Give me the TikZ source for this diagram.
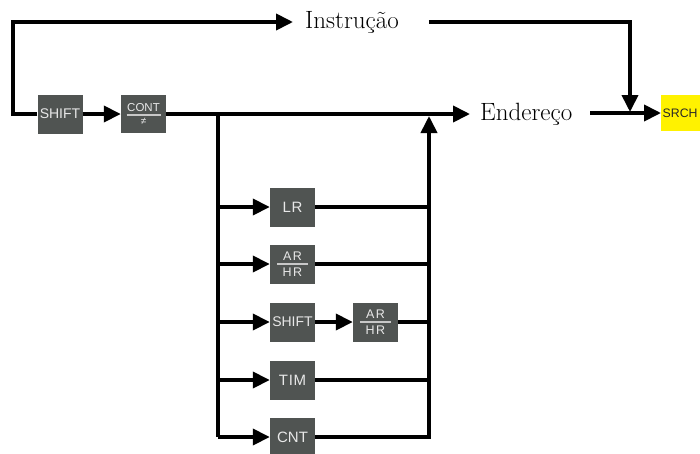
\documentclass[tikz,border=0pt]{standalone}
\usepackage{fontspec}
\newfontfamily\keyfont{Liberation Sans}
\usetikzlibrary{arrows.meta}

\definecolor{keygray}{RGB}{80,84,82}
\definecolor{keytext}{RGB}{232,232,232}
\definecolor{keyrule}{RGB}{200,200,200}
\definecolor{srchyellow}{RGB}{255,242,0}
\definecolor{srchtext}{RGB}{40,40,40}

% two-level key legend: upper text, thin rule, lower text
\newcommand\keyfrac[3]{\vbox{\offinterlineskip
  \hbox to #1{\hss#2\hss}\kern3pt
  \hbox{\color{keyrule}\rule{#1}{1.5pt}}\kern3pt
  \hbox to #1{\hss#3\hss}}}

\begin{document}
\begin{tikzpicture}[x=1pt,y=-1pt,
  key/.style={fill=keygray, text=keytext, minimum width=45pt, minimum height=39pt,
    inner sep=0pt, font=\keyfont\fontsize{15}{16}\selectfont},
  fkey/.style={key, font=\keyfont\fontsize{12.5}{13}\selectfont},
  wire/.style={line width=3.8pt},
  flow/.style={wire, -{Triangle[length=17pt,width=16pt]}},
  word/.style={font=\fontsize{25}{30}\selectfont, inner sep=0pt, anchor=west},
]
\useasboundingbox (0,0) rectangle (700,453);
\clip (0,0) rectangle (700,453);

% keys
\node[key, font=\keyfont\fontsize{14}{15}\selectfont] (shiftA) at (60,114) {SHIFT};
\node[fkey, minimum height=38pt, font=\keyfont\fontsize{11.5}{12}\selectfont] (cont) at (143.5,114)
  {\keyfrac{34pt}{CONT}{\fontsize{10}{10}\selectfont ≠}};
\node[key] (lr)     at (292.5,207) {L\kern0.5pt R};
\node[fkey] (arhrA) at (292.5,264) {\keyfrac{31pt}{A\kern1.5pt R}{H\kern1.5pt R}};
\node[key, font=\keyfont\fontsize{14}{15}\selectfont] (shiftB) at (292.5,322) {SHIFT};
\node[fkey] (arhrB) at (375.5,322) {\keyfrac{31pt}{A\kern1.5pt R}{H\kern1.5pt R}};
\node[key] (tim)    at (292.5,380) {T\kern0.8pt I\kern0.8pt M};
\node[key] (cnt)    at (292.5,437) {CNT};
\node[fill=srchyellow, text=srchtext, anchor=west, minimum height=36pt,
  text width=44pt, inner xsep=1.5pt, inner ysep=0pt, align=left,
  font=\keyfont\fontsize{12.3}{13}\selectfont] (srch) at (661,113) {SRCH};

% labels
\node[word] (instr) at (305,22) {Instrução};
\node[word] (ender) at (480,114) {Endereço};

% corners and bus points
\coordinate (lc)  at (13,114);
\coordinate (tl)  at (13,22);
\coordinate (tr)  at (630,22);
\coordinate (jn)  at (630,112);
\coordinate (lb)  at (218,114);
\coordinate (rb)  at (429,116);
\coordinate (in0) at ([xshift=-12pt]instr.west);
\coordinate (in1) at ([xshift=30pt]instr.east);
\coordinate (en0) at ([xshift=-10pt]ender.west);
\coordinate (en1) at ([xshift=18pt]ender.east);

% instruction path
\draw[flow] (shiftA.west) -- (lc) -- (tl |- in0) -- (in0);
\draw[flow] (in1) -- (tr |- in1) -- (jn);

% address path
\draw[flow] (shiftA.east) -- (cont.west);
\draw[flow] (cont.east) -- (en0 |- cont.east);
\draw[flow] (en1 |- srch.west) -- (srch.west);

% left distribution bus
\draw[wire] (lb) -- (lb |- cnt.west);
\foreach \k in {lr,arhrA,shiftB,tim,cnt}
  \draw[flow] (lb |- \k.west) -- (\k.west);
\draw[flow] (shiftB.east) -- (arhrB.west);

% right collecting bus
\draw[flow] (cnt.east) -| (rb);
\foreach \k in {lr,arhrA,tim}
  \draw[wire] (\k.east) -- (rb |- \k.east);
\draw[wire] (arhrB.east) -- (rb |- arhrB.east);
\end{tikzpicture}
\end{document}
